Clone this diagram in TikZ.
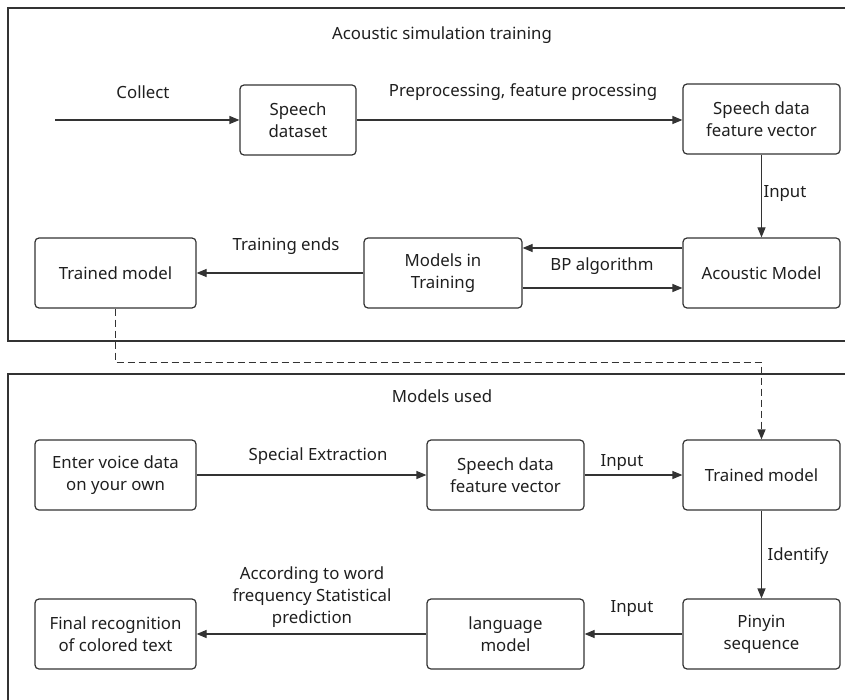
\documentclass[tikz,border=0pt]{standalone}
\usepackage{fontspec}
\setmainfont{Noto Sans}
\usetikzlibrary{arrows.meta}
\definecolor{lineGray}{HTML}{333333}
\definecolor{textGray}{HTML}{1F1F1F}

\begin{document}
\begin{tikzpicture}[x=1pt, y=-1pt,
    box/.style={draw=lineGray, line width=1.2pt, rounded corners=4pt, align=center,
      font=\fontsize{16.8}{22}\selectfont, text=textGray, minimum height=70pt, inner sep=2pt},
    flow/.style={draw=lineGray, line width=1.2pt, -{Triangle[length=10pt,width=8pt]}},
    lbl/.style={font=\fontsize{16.8}{22}\selectfont, text=textGray, align=center}]
        \useasboundingbox (0,0) rectangle (845,700);
        % frames
        \draw[lineGray, line width=1.2pt] (860,8) -- (8,8) -- (8,341) -- (860,341);
        \draw[lineGray, line width=1.2pt] (860,374) -- (8,374) -- (8,710);
        \node[lbl] (ttlTrain) at (442,35) {Acoustic simulation training};
        \node[lbl] (ttlUsed) at (442,396) {Models used};
        % acoustic simulation training
        \node[box, minimum width=116pt] (speechSet) at (298,120) {Speech\\dataset};
        \node[box, minimum width=157pt] (featTrain) at (761.5,119) {Speech data\\feature vector};
        \node[box, minimum width=157pt] (acoustic) at (761.5,273) {Acoustic Model};
        \node[box, minimum width=158pt] (training) at (443,273) {Models in\\Training};
        \node[box, minimum width=161pt] (trainedA) at (115.5,273) {Trained model};
        \coordinate (collectIn) at (55,120);
        \draw[flow] (collectIn) -- (speechSet);
        \draw[flow] (speechSet) -- (featTrain.west |- speechSet);
        \draw[flow] (featTrain) -- (acoustic);
        \draw[flow] ([yshift=25pt]acoustic.west) -- ([yshift=25pt]training.east);
        \draw[flow] ([yshift=-15pt]training.east) -- ([yshift=-15pt]acoustic.west);
        \draw[flow] (training) -- (trainedA);
        \node[lbl] (lCollect) at (143,92) {Collect};
        \node[lbl] (lPre) at (523,92) {Preprocessing, feature processing};
        \node[lbl] (lInA) at (785,194) {Input};
        \node[lbl] (lBP) at (602,266) {BP algorithm};
        \node[lbl] (lEnds) at (286,246) {Training ends};
        % models used
        \node[box, minimum width=161pt] (enterVoice) at (115.5,475) {Enter voice data\\on your own};
        \node[box, minimum width=157pt] (featUse) at (505.5,475) {Speech data\\feature vector};
        \node[box, minimum width=157pt] (trainedB) at (761.5,475) {Trained model};
        \node[box, minimum width=157pt] (pinyin) at (761.5,634) {Pinyin\\sequence};
        \node[box, minimum width=157pt] (langModel) at (505.5,634) {language\\model};
        \node[box, minimum width=161pt] (finalText) at (115.5,634) {Final recognition\\of colored text};
        \draw[flow, dash pattern=on 7pt off 4pt] (trainedA.south) -- ++(0,54) -| (trainedB.north);
        \draw[flow] (enterVoice) -- (featUse);
        \draw[flow] (featUse) -- (trainedB);
        \draw[flow] (trainedB) -- (pinyin);
        \draw[flow] (pinyin) -- (langModel);
        \draw[flow] (langModel) -- (finalText);
        \node[lbl] (lSpecial) at (318,456) {Special Extraction};
        \node[lbl] (lInB) at (622,463) {Input};
        \node[lbl] (lIdent) at (798,556) {Identify};
        \node[lbl] (lInC) at (632,609) {Input};
        \node[lbl] (lFreq) at (312,597) {According to word\\frequency Statistical\\prediction};
      \end{tikzpicture}
\end{document}
